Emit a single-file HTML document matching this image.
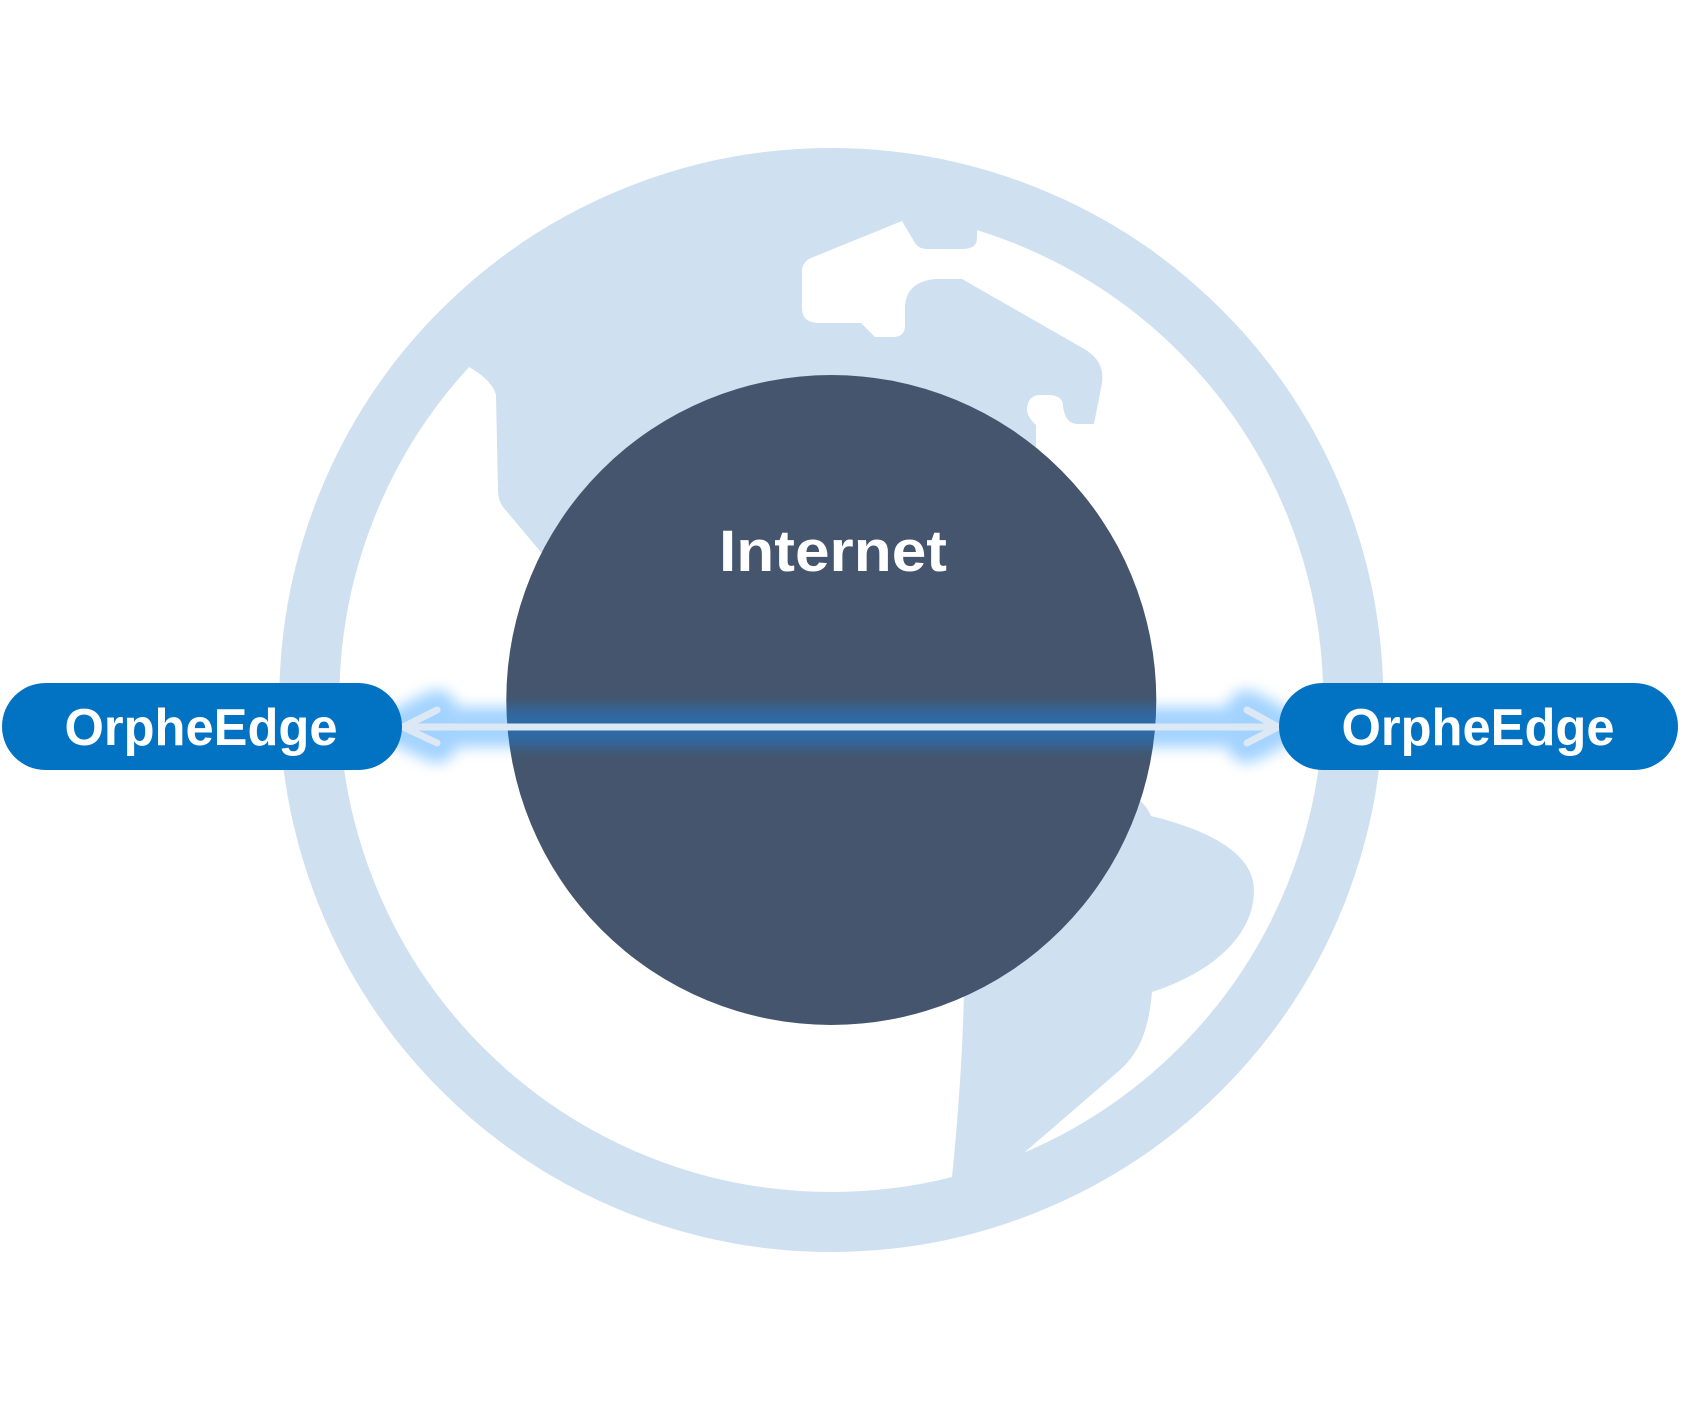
<!DOCTYPE html>
<html>
<head>
<meta charset="utf-8">
<style>
  html, body { margin: 0; padding: 0; background: #ffffff; }
  body { width: 1682px; height: 1402px; overflow: hidden; }
  svg { display: block; }
  .lbl { font-family: "Liberation Sans", Arial, sans-serif; font-weight: bold; fill: #ffffff; }
</style>
</head>
<body>
<svg width="1682" height="1402" viewBox="0 0 1682 1402" xmlns="http://www.w3.org/2000/svg">
  <defs>
    <filter id="glow" x="-10%" y="-200%" width="120%" height="500%">
      <feGaussianBlur stdDeviation="7"/>
    </filter>
  </defs>

  <!-- globe ring -->
  <circle cx="831.3" cy="700" r="522" fill="none" stroke="#cfe0f1" stroke-width="60"/>

  <!-- north continent -->
  <path fill="#cfe0f1" d="
    M 453 342 L 469 367 Q 492 380 496 395 L 498 490 Q 498 500 503 507 L 545 557
    L 600 610 L 1000 520 L 1036 470 L 1036 425
    Q 1026 416 1027 407 Q 1029 395 1040 395 L 1050 395 Q 1063 396 1063 406 Q 1065 424 1078 424 L 1094 424
    L 1102 383 Q 1105 362 1086 350 L 962 279 L 935 279 Q 906 282 905 307 L 905 327 Q 904 337 893 337
    L 875 337 L 861 323 L 817 323 Q 802 322 802 308 L 802 272 Q 802 262 811 258 L 902 221
    L 915 243 Q 919 249 927 249 L 962 249 Q 977 249 977 238 L 977 224 L 984 203
    A 520 520 0 0 0 453 342 Z"/>

  <!-- south continent -->
  <path fill="#cfe0f1" d="
    M 1100 790 L 1135 797 Q 1146 804 1151 816
    C 1200 828 1254 850 1254 890
    C 1254 940 1205 975 1152 992
    C 1149 1025 1142 1050 1120 1070
    L 1018 1158 L 1012 1195 L 948 1205 L 952 1177
    Q 962 1080 964 992 L 1000 950 Z"/>

  <!-- internet circle -->
  <circle cx="831.3" cy="700" r="325" fill="#45556d"/>
  <text class="lbl" x="833" y="571" font-size="58" text-anchor="middle" textLength="228" lengthAdjust="spacingAndGlyphs">Internet</text>

  <!-- glow -->
  <g filter="url(#glow)" opacity="0.38">
    <path d="M 403 727 H 1278 M 437 710 L 403 727 L 437 743 M 1247 710 L 1278 727 L 1247 743"
          fill="none" stroke="#0a8cff" stroke-width="40" stroke-linecap="round" stroke-linejoin="round"/>
  </g>

  <!-- connector line -->
  <path d="M 403 727 H 1278 M 437 710 L 403 727 L 437 743 M 1247 710 L 1278 727 L 1247 743"
        fill="none" stroke="#dde8f5" stroke-width="7" stroke-linecap="round" stroke-linejoin="round"/>

  <!-- left box -->
  <rect x="2" y="683" width="400" height="87" rx="43.5" ry="43.5" fill="#0272c3"/>
  <text class="lbl" x="201" y="745" font-size="52" text-anchor="middle" textLength="273" lengthAdjust="spacingAndGlyphs">OrpheEdge</text>

  <!-- right box -->
  <rect x="1279" y="683" width="399" height="87" rx="43.5" ry="43.5" fill="#0272c3"/>
  <text class="lbl" x="1478" y="745" font-size="52" text-anchor="middle" textLength="273" lengthAdjust="spacingAndGlyphs">OrpheEdge</text>
</svg>
</body>
</html>
